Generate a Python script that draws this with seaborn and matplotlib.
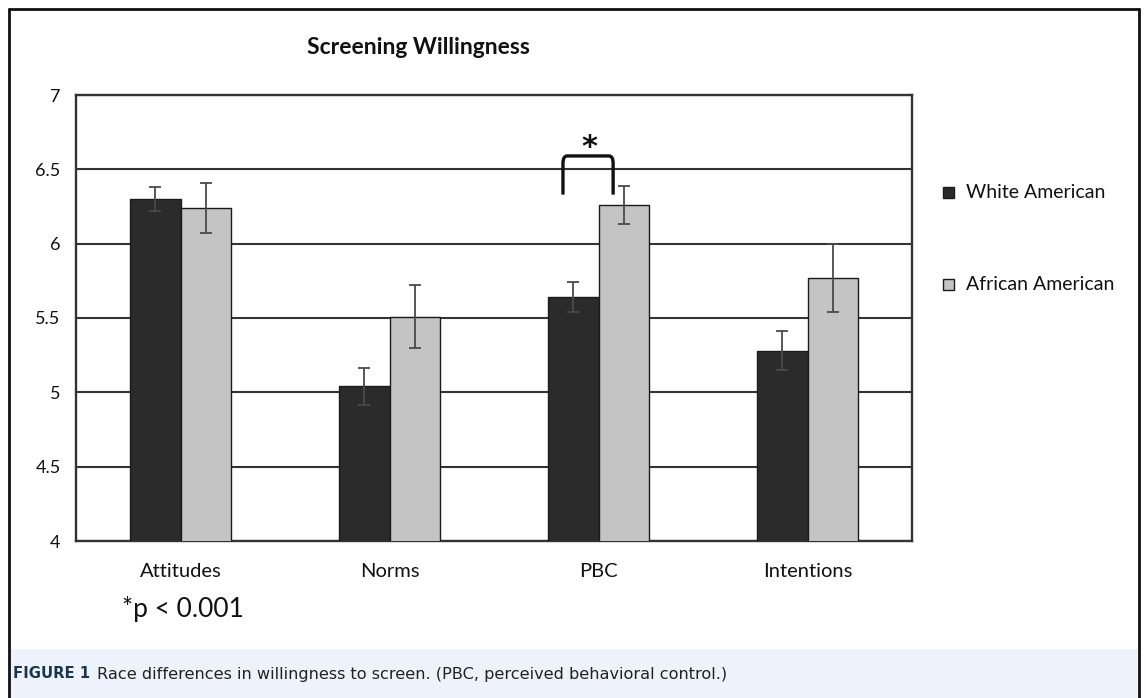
import numpy as np
import pandas as pd
import matplotlib
matplotlib.use("Agg")
import matplotlib.pyplot as plt
from matplotlib.patches import Rectangle
from matplotlib.path import Path
from matplotlib.patches import PathPatch
import seaborn as sns

# Mean scores (1-7 scale) with standard errors by group
categories = ["Attitudes", "Norms", "PBC", "Intentions"]
groups = ["White American", "African American"]
white_mean = [6.30, 5.04, 5.64, 5.28]
white_err = [0.08, 0.125, 0.10, 0.13]
african_mean = [6.24, 5.51, 6.26, 5.77]
african_err = [0.17, 0.21, 0.13, 0.23]
y_ticks = [4, 4.5, 5, 5.5, 6, 6.5, 7]
y_tick_labels = ["4", "4.5", "5", "5.5", "6", "6.5", "7"]

df = pd.DataFrame({
    "construct": categories * 2,
    "group": [groups[0]] * 4 + [groups[1]] * 4,
    "score": white_mean + african_mean,
})
errs = {groups[0]: white_err, groups[1]: african_err}

sns.set_theme(style="white")
plt.rcParams["font.family"] = ["Lato", "DejaVu Sans"]

W, H = 1146, 698
fig = plt.figure(figsize=(W / 100, H / 100), dpi=100)

def fx(px):
    return px / W

def fy(py):
    return 1 - py / H

# caption band and outer frame
fig.patches.append(Rectangle((fx(9), 0), fx(1139) - fx(9), fy(649), transform=fig.transFigure,
                             facecolor="#eef3fb", edgecolor="none", zorder=0))
frame_kw = dict(transform=fig.transFigure, color="#111111", lw=2.0)
fig.add_artist(plt.Line2D([fx(9), fx(9)], [0, fy(9)], **frame_kw))
fig.add_artist(plt.Line2D([fx(1139), fx(1139)], [0, fy(9)], **frame_kw))
fig.add_artist(plt.Line2D([fx(9), fx(1139)], [fy(9), fy(9)], **frame_kw))

ax = fig.add_axes([fx(76), fy(541), fx(912) - fx(76), fy(95) - fy(541)])

palette = {groups[0]: "#2b2b2b", groups[1]: "#c4c4c4"}
sns.barplot(data=df, x="construct", y="score", hue="group", order=categories,
            hue_order=groups, palette=palette, width=0.48, gap=0,
            edgecolor="#1a1a1a", linewidth=1.0, saturation=1, ax=ax, zorder=3,
            legend=False)

# error bars at each bar centre
for container, g in zip(ax.containers, groups):
    xs = [p.get_x() + p.get_width() / 2 for p in container.patches]
    ys = [p.get_y() + p.get_height() for p in container.patches]
    ax.errorbar(xs, ys, yerr=errs[g], fmt="none", ecolor="#4a4a4a",
                elinewidth=1.3, capsize=4, capthick=1.3, zorder=4)

ax.set_ylim(4, 7)
ax.set_xlim(-0.5, 3.5)
ax.set_yticks(y_ticks)
ax.set_yticklabels(y_tick_labels)
ax.yaxis.grid(True, color="#333333", lw=1.5)
ax.set_axisbelow(True)
for s in ax.spines.values():
    s.set_color("#333333")
    s.set_linewidth(1.7)
ax.set_xlabel("")
ax.set_ylabel("")
ax.tick_params(axis="both", length=0, colors="#111111")
ax.tick_params(axis="y", pad=11, labelsize=13)
ax.tick_params(axis="x", pad=16, labelsize=14.5)

# significance bracket over PBC
bx0, bx1, btop, bbot = 1.83, 2.07, 6.59, 6.33
r = 0.02
verts = [(bx0, bbot), (bx0, btop - 0.05), (bx0, btop), (bx0 + r, btop),
         (bx1 - r, btop), (bx1, btop), (bx1, btop - 0.05), (bx1, bbot)]
codes = [Path.MOVETO, Path.LINETO, Path.CURVE3, Path.CURVE3,
         Path.LINETO, Path.CURVE3, Path.CURVE3, Path.LINETO]
ax.add_patch(PathPatch(Path(verts, codes), facecolor="none", edgecolor="#111111",
                       lw=2.4, zorder=5, clip_on=False))
ax.text(1.955, 6.645, "*", ha="center", va="center", fontsize=22,
        fontweight="bold", color="#111111", zorder=5,
        family=["DejaVu Sans"])

fig.text(fx(418), fy(47), "Screening Willingness", ha="center", va="center",
         fontsize=16.5, fontweight="bold", color="#111111")

# legend
for name, py in zip(groups, [192, 284]):
    fig.patches.append(Rectangle((fx(943), fy(py) - 5.5 / H), 11 / W, 11 / H,
                                 transform=fig.transFigure, facecolor=palette[name],
                                 edgecolor="#1a1a1a", lw=1.0))
    fig.text(fx(966), fy(py), name, ha="left", va="center", fontsize=14,
             color="#111111")

fig.text(fx(122), fy(609), "*p < 0.001", ha="left", va="center", fontsize=19,
         color="#111111")

fig.text(fx(13), fy(674), "FIGURE 1", ha="left", va="center", fontsize=10.7,
         fontweight="bold", color="#1a3550", family=["DejaVu Sans"])
fig.text(fx(97), fy(674),
         "Race differences in willingness to screen. (PBC, perceived behavioral control.)",
         ha="left", va="center", fontsize=11.6, color="#222222",
         family=["DejaVu Sans"])

fig.savefig("out.png", dpi=100)
